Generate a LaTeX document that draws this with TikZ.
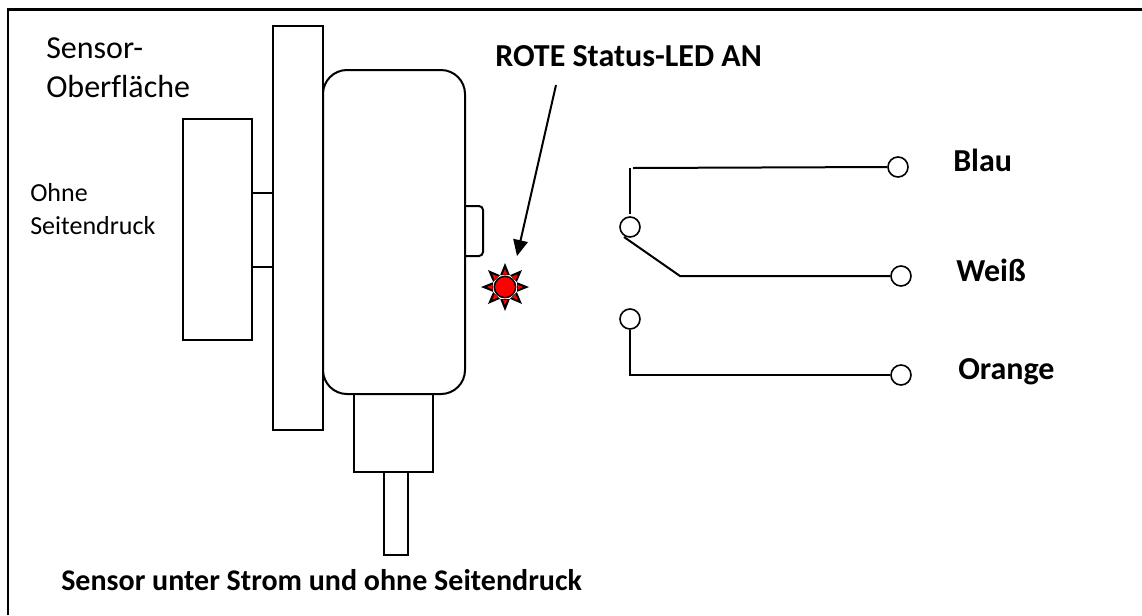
\documentclass[tikz,border=0pt]{standalone}
\usepackage{fontspec}
\setmainfont[RawFeature=-liga]{Carlito}
\usetikzlibrary{arrows.meta}
\tikzset{
  px/.style={x=0.75pt,y=-0.75pt},
  shp/.style={draw=black,line width=1.5pt,fill=white},
  wire/.style={draw=black,line width=1.5pt},
  term/.style={circle,draw=black,line width=1.2pt,fill=white,minimum size=15pt,inner sep=0pt},
  lab/.style={anchor=base west,inner sep=0pt,font=\fontsize{24}{28}\selectfont},
  blab/.style={anchor=base west,inner sep=0pt,font=\fontsize{24}{28}\selectfont\bfseries},
  blabs/.style={anchor=base west,inner sep=0pt,font=\fontsize{22.5}{26}\selectfont\bfseries},
  slab/.style={anchor=base west,inner sep=0pt,font=\fontsize{19.5}{24}\selectfont},
}
\begin{document}
\begin{tikzpicture}[px]
\useasboundingbox (0,0) rectangle (1142,615);
\draw[black,line width=1.6pt] (8,615) -- (8,9.5) -- (1142,9.5);
% sensor
\draw[shp] (183,119) rectangle (252,340);
\draw[shp] (252,193) rectangle (273,267);
\draw[shp] (273,26) rectangle (323,430);
\draw[shp] (384,472) rectangle (408,555);
\draw[shp] (354,394) rectangle (433,472);
\draw[shp,rounded corners=3pt] (455,206) -- (483,206) -- (483,256) -- (455,256);
\draw[shp,rounded corners=18pt] (323,70) rectangle (465,394);
% LED
\foreach \a in {0,45,...,315}{
  \fill[black,rotate around={\a:(505,287)}] (500.2,275) -- (505,263) -- (509.8,275) -- cycle;
  \fill[red,rotate around={\a:(505,287)}] (502.6,274.5) -- (505,269) -- (507.4,274.5) -- cycle;
}
\node[circle,draw=black,line width=1.1pt,fill=red,minimum size=16pt,inner sep=0pt] (led) at (505,287) {};
% arrow
\coordinate (arrowtail) at (556,85);
\coordinate (arrowtip) at (517,256);
\draw[black,line width=1.5pt,-{Triangle[length=12pt,width=11pt]}] (arrowtail) -- (arrowtip);
% contacts
\node[term] (c1) at (630,227) {};
\node[term] (c2) at (630,319) {};
\node[term] (blau) at (898,167) {};
\node[term] (weiss) at (901,276) {};
\node[term] (orange) at (901,375) {};
\coordinate (c1a) at (630,168);
\coordinate (c1b) at (633,168);
\coordinate (k1) at (680,276);
\coordinate (k2) at (630,375);
\coordinate (c1s) at (624,237);
\draw[wire] (c1.north) ++(0,-2) -- (c1a);
\draw[wire] (c1b) -- (blau.west);
\draw[wire] (c1s) -- (k1) -- (weiss.west);
\draw[wire] (c2.south) -- (k2) -- (orange.west);
% text
\node[lab] (t1) at (46,58) {Sensor-};
\node[lab] (t2) at (46,97) {Oberfläche};
\node[slab] (t3) at (30,201) {Ohne};
\node[slab] (t4) at (30,234) {Seitendruck};
\node[blab] (t5) at (495,66) {ROTE Status-LED AN};
\node[blab] (t6) at (953,171) {Blau};
\node[blab] (t7) at (956,281) {Weiß};
\node[blab] (t8) at (958,379) {Orange};
\node[blabs] (t9) at (61,590) {Sensor unter Strom und ohne Seitendruck};
\end{tikzpicture}
\end{document}
